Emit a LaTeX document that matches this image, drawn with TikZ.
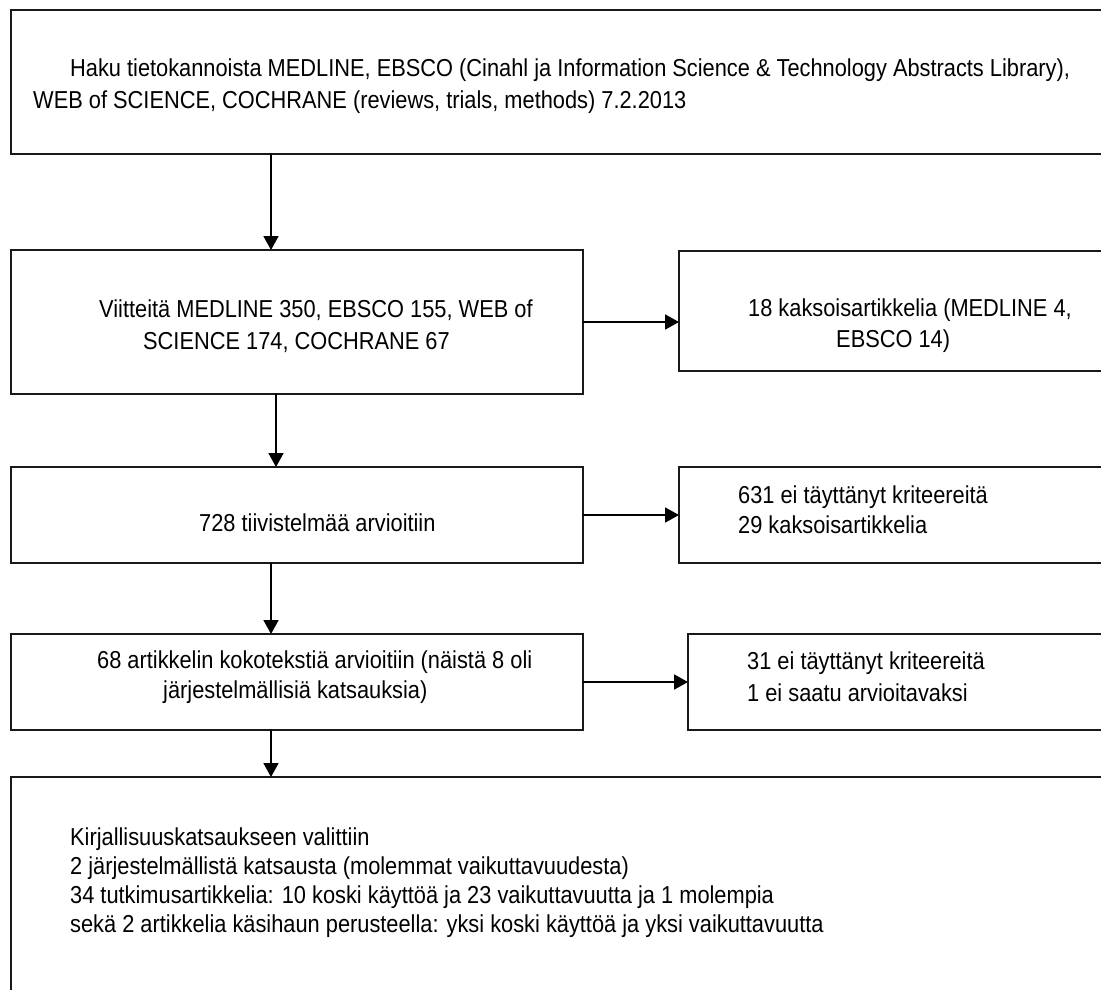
\documentclass[tikz,border=0pt]{standalone}
\usepackage{fontspec}
\setmainfont{Liberation Sans}[FakeStretch=0.89]
\usetikzlibrary{arrows.meta}
\begin{document}
\begin{tikzpicture}[x=1pt, y=-1pt,
  box/.style={draw=black!90, line width=1.7pt, rectangle, inner sep=0pt, outer sep=0pt, anchor=north west},
  txt/.style={anchor=base west, inner sep=0pt, font=\fontsize{24.5}{28}\selectfont},
  arr/.style={draw=black, line width=1.8pt, -{Triangle[length=14pt,width=15pt]}}]
\useasboundingbox (0,0) rectangle (1101,989);
\clip (0,0) rectangle (1101,989);

% flow boxes (the right-hand ones run past the page edge)
\node[box, minimum width=1130pt, minimum height=144pt] (b1) at (11,10) {};
\node[box, minimum width=572pt, minimum height=144pt] (b2) at (11,250) {};
\node[box, minimum width=460pt, minimum height=120pt] (r2) at (679,251) {};
\node[box, minimum width=572pt, minimum height=96pt] (b3) at (11,467) {};
\node[box, minimum width=460pt, minimum height=96pt] (r3) at (679,467) {};
\node[box, minimum width=572pt, minimum height=96pt] (b4) at (11,634) {};
\node[box, minimum width=451pt, minimum height=96pt] (r4) at (688,634) {};
\node[box, minimum width=1130pt, minimum height=240pt] (b5) at (11,777) {};

% box texts
\node[txt] (t1a) at (70,76) {Haku tietokannoista MEDLINE, EBSCO (Cinahl ja Information Science \& Technology Abstracts Library),};
\node[txt] (t1b) at (33,108) {WEB of SCIENCE, COCHRANE (reviews, trials, methods) 7.2.2013};
\node[txt] (t2a) at (99,317) {Viitteitä MEDLINE 350, EBSCO 155, WEB of};
\node[txt] (t2b) at (143,349) {SCIENCE 174, COCHRANE 67};
\node[txt] (r2a) at (748,316) {18 kaksoisartikkelia (MEDLINE 4,};
\node[txt] (r2b) at (836,347) {EBSCO 14)};
\node[txt] (t3) at (199,531) {728 tiivistelmää arvioitiin};
\node[txt] (r3a) at (738,503) {631 ei täyttänyt kriteereitä};
\node[txt] (r3b) at (738,533) {29 kaksoisartikkelia};
\node[txt] (t4a) at (97,668) {68 artikkelin kokotekstiä arvioitiin (näistä 8 oli};
\node[txt] (t4b) at (163,698) {järjestelmällisiä katsauksia)};
\node[txt] (r4a) at (747,669) {31 ei täyttänyt kriteereitä};
\node[txt] (r4b) at (747,701) {1 ei saatu arvioitavaksi};
\node[txt] (t5a) at (70,845) {Kirjallisuuskatsaukseen valittiin};
\node[txt] (t5b) at (70,874) {2 järjestelmällistä katsausta (molemmat vaikuttavuudesta)};
\node[txt] (t5c) at (70,903) {34 tutkimusartikkelia: 10 koski käyttöä ja 23 vaikuttavuutta ja 1 molempia};
\node[txt] (t5d) at (70,932) {sekä 2 artikkelia käsihaun perusteella: yksi koski käyttöä ja yksi vaikuttavuutta};

% connectors
\coordinate (ax) at (271,0);
\coordinate (bx) at (276,0);
\draw[arr] (b1.south -| ax) -- (b2.north -| ax);
\draw[arr] (b2.south -| bx) -- (b3.north -| bx);
\draw[arr] (b3.south -| ax) -- (b4.north -| ax);
\draw[arr] (b4.south -| ax) -- (b5.north -| ax);
\draw[arr] (b2.east) -- (b2.east -| r2.west);
\draw[arr] (b3.east) -- (b3.east -| r3.west);
\draw[arr] (b4.east) -- (b4.east -| r4.west);
\end{tikzpicture}
\end{document}
